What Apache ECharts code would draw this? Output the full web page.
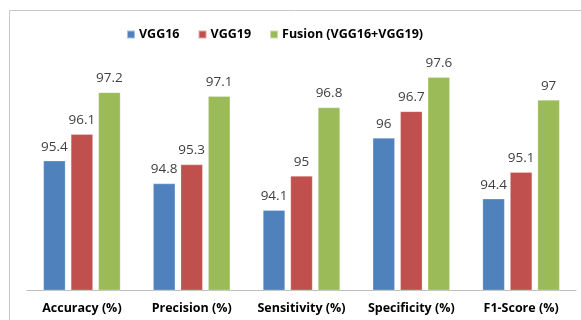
<!DOCTYPE html>
<html><head><meta charset="utf-8">
<script src="https://cdn.jsdelivr.net/npm/echarts@6/dist/echarts.min.js"></script>
<style>html,body{margin:0;padding:0;background:#fff}#c{width:581px;height:320px}</style>
</head><body><div id="c"></div>
<script>
const categories = ['Accuracy (%)', 'Precision (%)', 'Sensitivity (%)', 'Specificity (%)', 'F1-Score (%)'];
const seriesNames = ['VGG16', 'VGG19', 'Fusion (VGG16+VGG19)'];
const vgg16 = [95.4, 94.8, 94.1, 96, 94.4];
const vgg19 = [96.1, 95.3, 95, 96.7, 95.1];
const fusion = [97.2, 97.1, 96.8, 97.6, 97];
const colors = ['#4F81BD', '#C0504D', '#9BBB59'];
const values = [vgg16, vgg19, fusion];

const chart = echarts.init(document.getElementById('c'));
chart.setOption({
  animation: false,
  textStyle: { fontFamily: 'Open Sans' },
  graphic: [{ type: 'rect', shape: { x: 9.5, y: 10.5, width: 620, height: 400 }, style: { fill: 'none', stroke: '#c8c8c8', lineWidth: 1 }, z: -1 }],
  legend: {
    top: 23, left: 121, itemWidth: 8, itemHeight: 8, itemGap: 18,
    icon: 'rect',
    textStyle: { fontFamily: 'Open Sans', fontWeight: 'bold', fontSize: 12.5, color: '#000', padding: [0, 0, 0, -1] },
    data: seriesNames
  },
  grid: { left: 27, right: 5, top: 62, bottom: 30, containLabel: false },
  xAxis: {
    type: 'category', data: categories,
    axisLine: { lineStyle: { color: '#bfbfbf', width: 1 } },
    axisTick: { show: false },
    axisLabel: { interval: 0, hideOverlap: false, fontFamily: 'Open Sans', fontWeight: 'bold', fontSize: 12.5, color: '#000', margin: 12 }
  },
  yAxis: { type: 'value', min: 92, max: 98, show: false, splitLine: { show: false } },
  series: values.map((v, i) => ({
    name: seriesNames[i], type: 'bar', data: v,
    barWidth: 22, barGap: '25%',
    itemStyle: { color: colors[i], borderColor: 'rgba(255,255,255,0.5)', borderWidth: 0.5 },
    label: { show: true, position: 'top', distance: 7, fontFamily: 'Open Sans', fontSize: 13.5, color: '#404040' }
  }))
});
</script></body></html>
